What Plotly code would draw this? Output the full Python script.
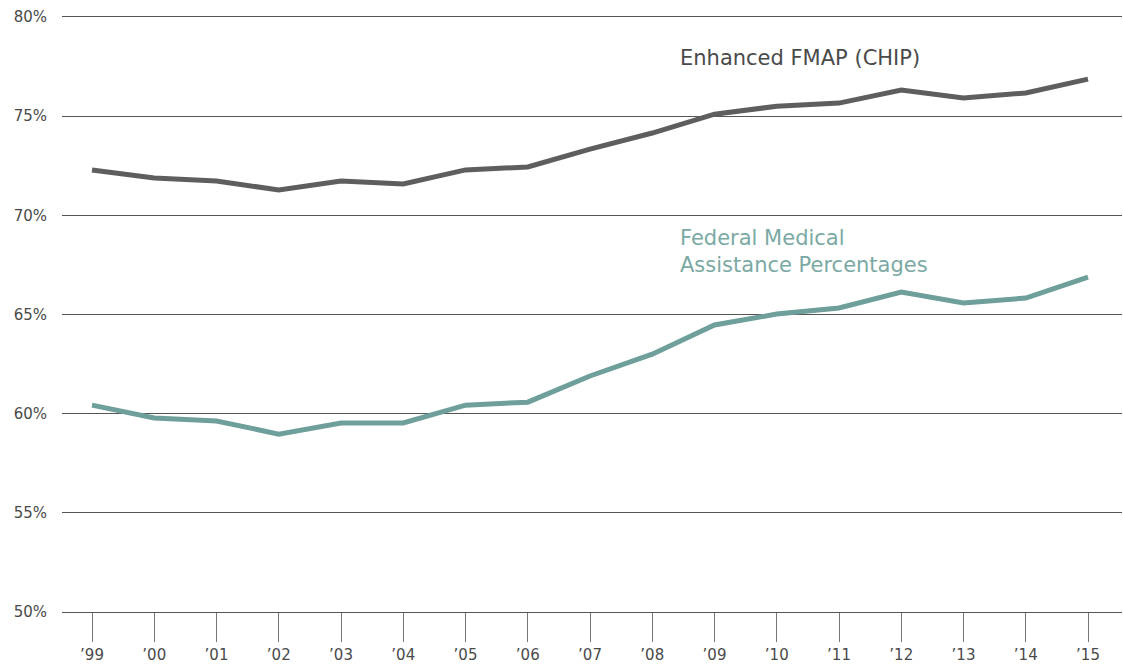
import plotly.graph_objects as go

years = ["’99", "’00", "’01", "’02", "’03", "’04", "’05", "’06", "’07", "’08",
         "’09", "’10", "’11", "’12", "’13", "’14", "’15"]
enhanced_fmap = [72.29, 71.88, 71.73, 71.28, 71.73, 71.58, 72.29, 72.44, 73.34, 74.15,
                 75.1, 75.5, 75.66, 76.32, 75.92, 76.17, 76.87]
fmap = [60.43, 59.78, 59.63, 58.97, 59.53, 59.53, 60.43, 60.58, 61.9, 63.0,
        64.47, 65.02, 65.33, 66.13, 65.58, 65.83, 66.89]
y_ticks = [50, 55, 60, 65, 70, 75, 80]

xs = list(range(len(years)))
font = "'DejaVu Sans', sans-serif"

fig = go.Figure()
fig.add_trace(go.Scatter(x=xs, y=enhanced_fmap, mode="lines",
                         line=dict(color="#5e5e5e", width=5), showlegend=False))
fig.add_trace(go.Scatter(x=xs, y=fmap, mode="lines",
                         line=dict(color="#6e9f9a", width=5), showlegend=False))

fig.add_annotation(x=9.45, y=77.93, xref="x", yref="y", text="Enhanced FMAP (CHIP)",
                   showarrow=False, xanchor="left", yanchor="middle", xshift=-2,
                   font=dict(family=font, size=21, color="#4a4a4a"))
fig.add_annotation(x=9.45, y=68.17, xref="x", yref="y",
                   text="Federal Medical<br>Assistance Percentages",
                   showarrow=False, xanchor="left", yanchor="middle", align="left", xshift=-2,
                   font=dict(family=font, size=21, color="#7aa9a4"))

fig.update_layout(
    width=1123, height=668,
    margin=dict(l=62, r=1, t=17, b=56),
    paper_bgcolor="white", plot_bgcolor="white",
    font=dict(family=font, color="#444444"),
)
fig.update_xaxes(range=[-0.482, 16.546], tickvals=xs, ticktext=years,
                 showgrid=False, zeroline=False,
                 showline=True, mirror=True, linecolor="#555555", linewidth=1,
                 ticks="outside", ticklen=29, tickwidth=1, tickcolor="#777777",
                 tickfont=dict(size=15, color="#4a4a4a"))
fig.update_yaxes(range=[50, 80], tickvals=y_ticks,
                 ticktext=[f"{v}%" for v in y_ticks],
                 showgrid=True, gridcolor="#555555", gridwidth=1,
                 zeroline=False, showline=False, ticks="", ticklabelstandoff=14,
                 tickfont=dict(size=15, color="#4a4a4a"))

fig.write_html("out.html", config={"displayModeBar": False},
               post_script="document.body.style.margin='0';")
